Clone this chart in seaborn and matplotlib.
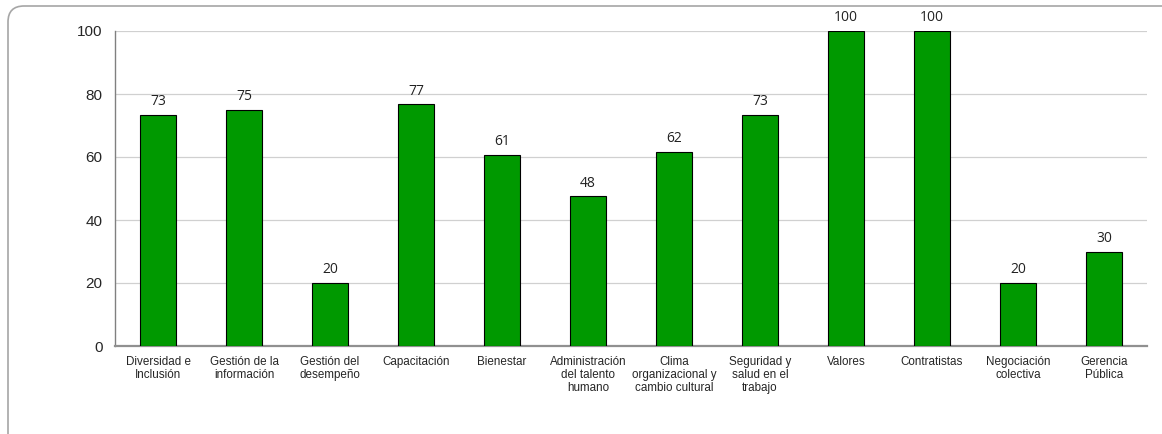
import matplotlib
matplotlib.use("Agg")
import matplotlib.pyplot as plt
import seaborn as sns
import pandas as pd
from matplotlib.patches import FancyBboxPatch

categories = ["Diversidad e\nInclusión", "Gestión de la\ninformación", "Gestión del\ndesempeño",
              "Capacitación", "Bienestar", "Administración\ndel talento\nhumano",
              "Clima\norganizacional y\ncambio cultural", "Seguridad y\nsalud en el\ntrabajo",
              "Valores", "Contratistas", "Negociación\ncolectiva", "Gerencia\nPública"]
values = [73.3, 75.0, 20.0, 76.7, 60.7, 47.5, 61.7, 73.3, 100.0, 100.0, 20.0, 30.0]
yticks = [0, 20, 40, 60, 80, 100]

sns.set_theme(style="white")
plt.rcParams['font.family'] = ['Liberation Sans', 'DejaVu Sans']

W, H = 1162, 434
fig = plt.figure(figsize=(W / 100, H / 100), dpi=100)

bg = fig.add_axes([0, 0, 1, 1], zorder=-1)
bg.set_xlim(0, W)
bg.set_ylim(H, 0)
bg.axis("off")
bg.add_patch(FancyBboxPatch((8, 6), W + 40, H + 40,
                            boxstyle="round,pad=0,rounding_size=16",
                            facecolor="white", edgecolor="#a6a6a6", linewidth=1.2))

ax = fig.add_axes([115 / W, 1 - 346 / H, (1147 - 115) / W, (346 - 31) / H])
ax.patch.set_alpha(0)
df = pd.DataFrame({"cat": categories, "val": values})
sns.barplot(data=df, x="cat", y="val", color="#009900", saturation=1, width=0.41,
            edgecolor="black", linewidth=0.8, ax=ax, zorder=3)
for i, v in enumerate(values):
    ax.text(i, v + 1.8, f"{v:.0f}", ha="center", va="bottom", fontsize=10,
            family=["Open Sans", "DejaVu Sans"], color="#222222")

ax.set_ylim(0, 100)
ax.set_xlim(-0.5, len(categories) - 0.5)
ax.set_yticks(yticks)
ax.set_yticklabels([str(t) for t in yticks], fontsize=11)
ax.tick_params(axis="y", length=0, pad=9)
ax.tick_params(axis="x", length=0, pad=7, labelsize=8.4)
ax.set_xlabel("")
ax.set_ylabel("")
ax.yaxis.grid(True, color="#d0d0d0", linewidth=0.9, zorder=0)
ax.set_axisbelow(True)
for s in ["top", "right"]:
    ax.spines[s].set_visible(False)
ax.spines["left"].set_color("#808080")
ax.spines["left"].set_linewidth(1.0)
ax.spines["bottom"].set_color("#909090")
ax.spines["bottom"].set_linewidth(1.6)
for lbl in ax.get_xticklabels():
    lbl.set_linespacing(1.15)

fig.savefig("out.png", dpi=100)
